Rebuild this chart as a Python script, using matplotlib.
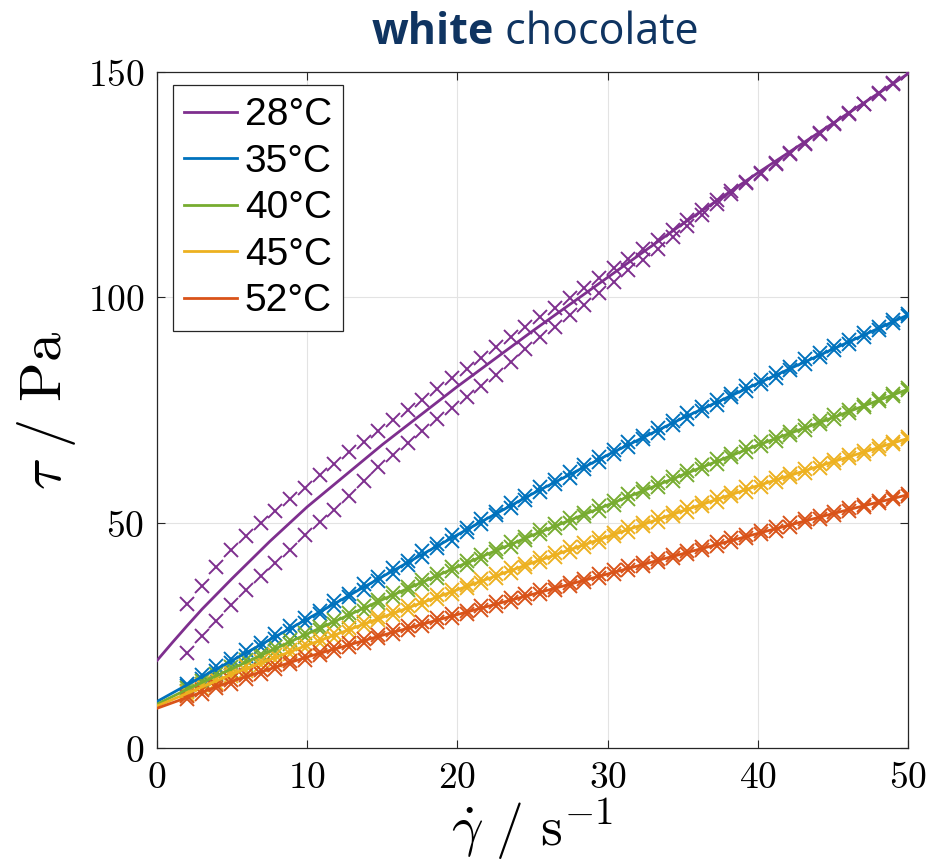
import numpy as np
import matplotlib
matplotlib.use("Agg")
import matplotlib.pyplot as plt
from matplotlib.ticker import FuncFormatter

plt.rcParams['mathtext.fontset'] = 'cm'

# --- data ---
labels = ['28°C', '35°C', '40°C', '45°C', '52°C']
colors = ['#7E2F8E', '#0072BD', '#77AC30', '#EDB120', '#D95319']

# shear-rate grid of the measured points (1/s)
shear = [2.00, 2.98, 3.96, 4.94, 5.92, 6.90, 7.88, 8.86, 9.84, 10.82,
         11.80, 12.78, 13.76, 14.73, 15.71, 16.69, 17.67, 18.65, 19.63, 20.61,
         21.59, 22.57, 23.55, 24.53, 25.51, 26.49, 27.47, 28.45, 29.43, 30.41,
         31.39, 32.37, 33.35, 34.33, 35.31, 36.29, 37.27, 38.24, 39.22, 40.20,
         41.18, 42.16, 43.14, 44.12, 45.10, 46.08, 47.06, 48.04, 49.02, 50.00]

# two sweeps per temperature (Pa)
t28_a = [31.9, 36.0, 40.2, 44.0, 47.0, 49.9, 52.6, 55.2, 57.6, 60.5,
         63.1, 65.7, 68.0, 70.3, 72.7, 75.0, 77.3, 79.7, 82.0, 84.2,
         86.5, 88.9, 91.2, 93.4, 95.7, 97.7, 99.9, 102.0, 104.2, 106.4,
         108.6, 110.8, 112.8, 114.9, 117.1, 119.3, 121.5, 123.6, 125.6, 127.6,
         129.8, 132.1, 134.3, 136.5, 138.6, 140.8, 143.0, 145.3, 147.6, 149.8]
t28_b = [21.0, 24.8, 28.2, 31.8, 35.1, 38.2, 41.0, 43.9, 47.2, 50.2,
         52.9, 55.8, 59.3, 62.3, 65.0, 67.6, 70.3, 73.0, 75.4, 77.9,
         80.3, 82.8, 85.7, 88.6, 91.2, 93.5, 96.0, 98.4, 100.9, 103.4,
         106.0, 108.3, 110.8, 113.3, 115.9, 118.2, 120.7, 123.0, 125.3, 127.4,
         129.5, 131.8, 134.0, 136.2, 138.4, 140.6, 142.8, 145.1, 147.4, 149.7]

t35_a = [14.3, 16.3, 18.1, 19.8, 21.7, 23.3, 25.3, 27.0, 28.9, 30.5,
         32.6, 34.2, 36.3, 37.9, 39.9, 41.5, 43.6, 45.2, 47.2, 48.8,
         50.8, 52.4, 54.4, 55.9, 57.9, 59.4, 61.2, 62.7, 64.6, 66.1,
         67.9, 69.3, 71.1, 72.5, 74.3, 75.6, 77.3, 78.6, 80.3, 81.6,
         83.3, 84.6, 86.2, 87.6, 89.2, 90.5, 92.0, 93.5, 94.9, 96.3]
t35_b = [13.7, 15.3, 17.0, 18.8, 20.5, 22.5, 24.1, 26.0, 27.7, 29.7,
         31.4, 33.4, 35.1, 37.1, 38.7, 40.7, 42.4, 44.4, 46.0, 48.0,
         49.6, 51.6, 53.2, 55.1, 56.7, 58.6, 60.0, 61.9, 63.4, 65.3,
         66.7, 68.5, 69.9, 71.7, 73.1, 74.8, 76.1, 77.8, 79.1, 80.8,
         82.1, 83.8, 85.2, 86.8, 88.2, 89.7, 91.2, 92.7, 94.3, 95.9]

t40_a = [13.3, 14.9, 16.5, 17.9, 19.5, 20.9, 22.5, 23.9, 25.6, 26.9,
         28.5, 29.9, 31.5, 32.9, 34.4, 35.8, 37.3, 38.6, 40.2, 41.5,
         42.9, 44.2, 45.7, 46.9, 48.4, 49.6, 51.0, 52.2, 53.6, 54.8,
         56.3, 57.5, 58.9, 60.1, 61.5, 62.7, 64.1, 65.3, 66.7, 67.8,
         69.0, 70.2, 71.4, 72.6, 73.8, 75.0, 76.2, 77.5, 78.6, 79.8]
t40_b = [12.7, 14.1, 15.5, 17.1, 18.5, 20.1, 21.5, 23.1, 24.6, 26.1,
         27.5, 29.1, 30.5, 32.1, 33.4, 35.0, 36.3, 37.8, 39.2, 40.7,
         41.9, 43.4, 44.7, 46.1, 47.4, 48.8, 50.0, 51.4, 52.6, 54.0,
         55.3, 56.7, 57.9, 59.3, 60.5, 61.9, 63.1, 64.5, 65.7, 67.0,
         68.2, 69.4, 70.6, 71.8, 73.0, 74.4, 75.6, 76.9, 78.2, 79.4]

t45_a = [12.4, 13.9, 15.4, 16.7, 18.1, 19.2, 20.6, 21.7, 23.1, 24.2,
         25.5, 26.6, 28.0, 29.1, 30.4, 31.5, 32.8, 33.9, 35.1, 36.2,
         37.5, 38.6, 39.9, 40.9, 42.2, 43.2, 44.5, 45.5, 46.7, 47.8,
         49.0, 50.0, 51.2, 52.2, 53.4, 54.4, 55.6, 56.6, 57.8, 58.8,
         59.9, 60.9, 61.9, 63.0, 64.0, 64.9, 65.9, 67.0, 67.9, 68.9]
t45_b = [11.8, 13.1, 14.4, 15.9, 17.1, 18.4, 19.6, 20.9, 22.1, 23.4,
         24.5, 25.8, 27.0, 28.3, 29.4, 30.7, 31.8, 33.1, 34.1, 35.4,
         36.5, 37.8, 38.9, 40.1, 41.2, 42.4, 43.5, 44.7, 45.7, 47.0,
         48.0, 49.2, 50.2, 51.4, 52.4, 53.6, 54.6, 55.8, 56.8, 58.0,
         59.1, 60.1, 61.1, 62.2, 63.2, 64.3, 65.3, 66.4, 67.5, 68.5]

t52_a = [11.5, 12.8, 14.0, 15.1, 16.2, 17.3, 18.3, 19.4, 20.4, 21.4,
         22.3, 23.3, 24.2, 25.1, 26.1, 27.0, 27.9, 28.8, 29.7, 30.5,
         31.4, 32.3, 33.2, 34.1, 35.0, 35.8, 36.7, 37.6, 38.5, 39.4,
         40.3, 41.1, 42.0, 42.9, 43.8, 44.7, 45.6, 46.5, 47.3, 48.2,
         49.0, 49.9, 50.7, 51.5, 52.4, 53.2, 54.0, 54.8, 55.6, 56.4]
t52_b = [10.9, 12.0, 13.2, 14.3, 15.4, 16.5, 17.5, 18.6, 19.6, 20.6,
         21.5, 22.5, 23.4, 24.3, 25.3, 26.2, 27.1, 28.0, 28.9, 29.7,
         30.6, 31.5, 32.4, 33.3, 34.2, 35.0, 35.9, 36.8, 37.7, 38.6,
         39.5, 40.3, 41.2, 42.1, 43.0, 43.9, 44.8, 45.7, 46.5, 47.4,
         48.2, 49.1, 50.1, 50.9, 51.8, 52.6, 53.4, 54.4, 55.2, 56.0]

# fitted model curves (read at a few shear rates)
fit_x28 = [0, 1, 2, 3, 5, 7.5, 10, 15, 20, 25, 30, 35, 40, 45, 50]
fit_28 = [19.4, 23.3, 27.1, 30.8, 37.6, 45.8, 53.5, 67.3, 80.2, 92.5, 104.4, 116.3, 127.6, 138.6, 149.6]
fit_x = [0, 2, 5, 10, 15, 20, 25, 30, 35, 40, 45, 50]
fit_35 = [10.3, 14.0, 19.4, 28.6, 38.0, 47.3, 56.4, 65.0, 73.2, 80.9, 88.5, 96.1]
fit_40 = [9.7, 13.0, 17.6, 25.3, 32.9, 40.2, 47.2, 53.9, 60.6, 67.2, 73.3, 79.6]
fit_45 = [9.3, 12.1, 16.4, 22.8, 29.0, 35.1, 41.1, 46.9, 52.6, 58.2, 63.5, 68.7]
fit_52 = [8.8, 11.2, 14.8, 20.2, 25.0, 29.6, 34.1, 38.6, 43.1, 47.6, 52.0, 56.2]

sweeps = [(t28_a, t28_b), (t35_a, t35_b), (t40_a, t40_b), (t45_a, t45_b), (t52_a, t52_b)]
fits = [(fit_x28, fit_28), (fit_x, fit_35), (fit_x, fit_40), (fit_x, fit_45), (fit_x, fit_52)]

fig = plt.figure(figsize=(9.35, 8.66), dpi=100)
ax = fig.add_axes([0.1679, 0.1363, 0.8032, 0.7806])

handles = []
for (sa, sb), (fx, fy), col, lab in zip(sweeps, fits, colors, labels):
    ax.plot(shear, sa, 'x', color=col, ms=10.5, mew=1.4, zorder=3)
    ax.plot(shear, sb, 'x', color=col, ms=10.5, mew=1.4, zorder=3)
    h, = ax.plot(fx, fy, '-', color=col, lw=2.0, zorder=4, label=lab)
    handles.append(h)

ax.set_xlim(0, 50)
ax.set_ylim(0, 150)
ax.set_xticks([0, 10, 20, 30, 40, 50])
ax.set_yticks([0, 50, 100, 150])
fmt = FuncFormatter(lambda v, p: r'$%d$' % v)
ax.xaxis.set_major_formatter(fmt)
ax.yaxis.set_major_formatter(fmt)
ax.tick_params(direction='in', length=6, width=0.8, color='#262626',
               labelsize=27, top=True, right=True, pad=9)
ax.grid(True, color='#e3e3e3', lw=0.8)
ax.set_axisbelow(True)
for s in ax.spines.values():
    s.set_color('#262626')
    s.set_linewidth(0.9)

ax.set_xlabel(r'$\dot{\gamma}\ /\ \mathrm{s}^{-1}$', fontsize=40, labelpad=0)
ax.set_ylabel(r'$\tau\ /\ \mathrm{Pa}$', fontsize=42, labelpad=7)

leg = ax.legend(handles=handles, loc='upper left', bbox_to_anchor=(0.021, 0.98),
                borderaxespad=0, fancybox=False, framealpha=1, edgecolor='#262626',
                prop={'family': 'Liberation Sans', 'size': 28},
                handlelength=1.35, handletextpad=0.2, labelspacing=0.27,
                borderpad=0.3)
leg.get_frame().set_linewidth(0.9)

# title with a bold first word
navy = '#0f3461'
fig.canvas.draw()
r = fig.canvas.get_renderer()
t1 = fig.text(0, 0, 'white', fontsize=31, fontweight='bold', family='Open Sans', color=navy)
t2 = fig.text(0, 0, ' chocolate', fontsize=31, family='Open Sans', color=navy)
w1 = t1.get_window_extent(r).width
w2 = t2.get_window_extent(r).width
cx = (157 + 908) / 2 + 3
x0 = cx - (w1 + w2) / 2
base = 866 - 44
t1.set_position((x0 / 935, base / 866))
t2.set_position(((x0 + w1) / 935, base / 866))

fig.savefig('out.png', dpi=100)
